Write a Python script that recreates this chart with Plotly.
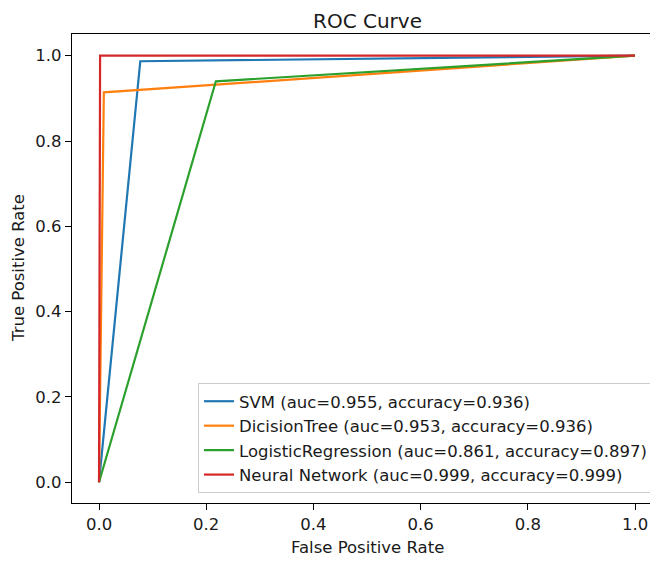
import plotly.graph_objects as go

names = ["SVM (auc=0.955, accuracy=0.936)",
         "DicisionTree (auc=0.953, accuracy=0.936)",
         "LogisticRegression (auc=0.861, accuracy=0.897)",
         "Neural Network (auc=0.999, accuracy=0.999)"]
fpr = [[0.0, 0.077, 1.0],
       [0.0, 0.009, 1.0],
       [0.0, 0.218, 1.0],
       [0.0, 0.002, 1.0]]
tpr = [[0.0, 0.987, 1.0],
       [0.0, 0.914, 1.0],
       [0.0, 0.940, 1.0],
       [0.0, 1.0, 1.0]]
colors = ["#1f77b4", "#ff7f0e", "#2ca02c", "#d62728"]
ticks = [0.0, 0.2, 0.4, 0.6, 0.8, 1.0]
tick_text = ["0.0", "0.2", "0.4", "0.6", "0.8", "1.0"]

fig = go.Figure()
for n, x, y, c in zip(names, fpr, tpr, colors):
    fig.add_trace(go.Scatter(x=x, y=y, mode="lines", name=n,
                             line=dict(color=c, width=2.2)))

font = "DejaVu Sans, sans-serif"
# page body has an 8px margin, so the figure is drawn 8px lower/right
W, H = 650, 553
L, R, T, B = 64, 0, 26, 58
PW, PH = W - L - R, H - T - B
FS = 16.5
fig.update_layout(
    width=W, height=H,
    margin=dict(l=L, r=R, t=T, b=B),
    plot_bgcolor="white", paper_bgcolor="white",
    font=dict(family=font, size=FS, color="#1a1a1a"),
    showlegend=True,
    legend=dict(x=(645 - L) / PW, y=(495 - 485) / PH, xanchor="right", yanchor="bottom",
                bgcolor="rgba(255,255,255,0.8)", bordercolor="#cccccc",
                borderwidth=1, font=dict(size=FS, family=font),
                itemwidth=30),
    xaxis=dict(range=[-0.0504, 1.0429], tickvals=ticks, ticktext=tick_text,
               showgrid=False, zeroline=False, showline=True, mirror=True,
               linecolor="black", linewidth=1.3, ticks="outside", ticklen=6,
               tickcolor="black", tickfont=dict(size=FS), automargin=False),
    yaxis=dict(range=[-0.0485, 1.0509], tickvals=ticks, ticktext=tick_text,
               showgrid=False, zeroline=False, showline=True,
               linecolor="black", linewidth=1.3, ticks="outside", ticklen=6,
               tickcolor="black", tickfont=dict(size=FS), automargin=False),
    annotations=[
        dict(text="ROC Curve", x=(359 - L) / PW, y=1 + T / PH,
             xref="paper", yref="paper", xanchor="center", yanchor="top",
             showarrow=False, borderpad=0, font=dict(size=20)),
        dict(text="False Positive Rate", x=(359 - L) / PW, y=-(539 - T - PH) / PH,
             xref="paper", yref="paper", xanchor="center", yanchor="middle",
             showarrow=False, font=dict(size=FS)),
        dict(text="True Positive Rate", x=-(L - 10) / PW, y=(495 - 260) / PH,
             xref="paper", yref="paper", xanchor="center", yanchor="middle",
             textangle=-90, showarrow=False, font=dict(size=FS)),
    ],
)
fig.write_html("out.html")
